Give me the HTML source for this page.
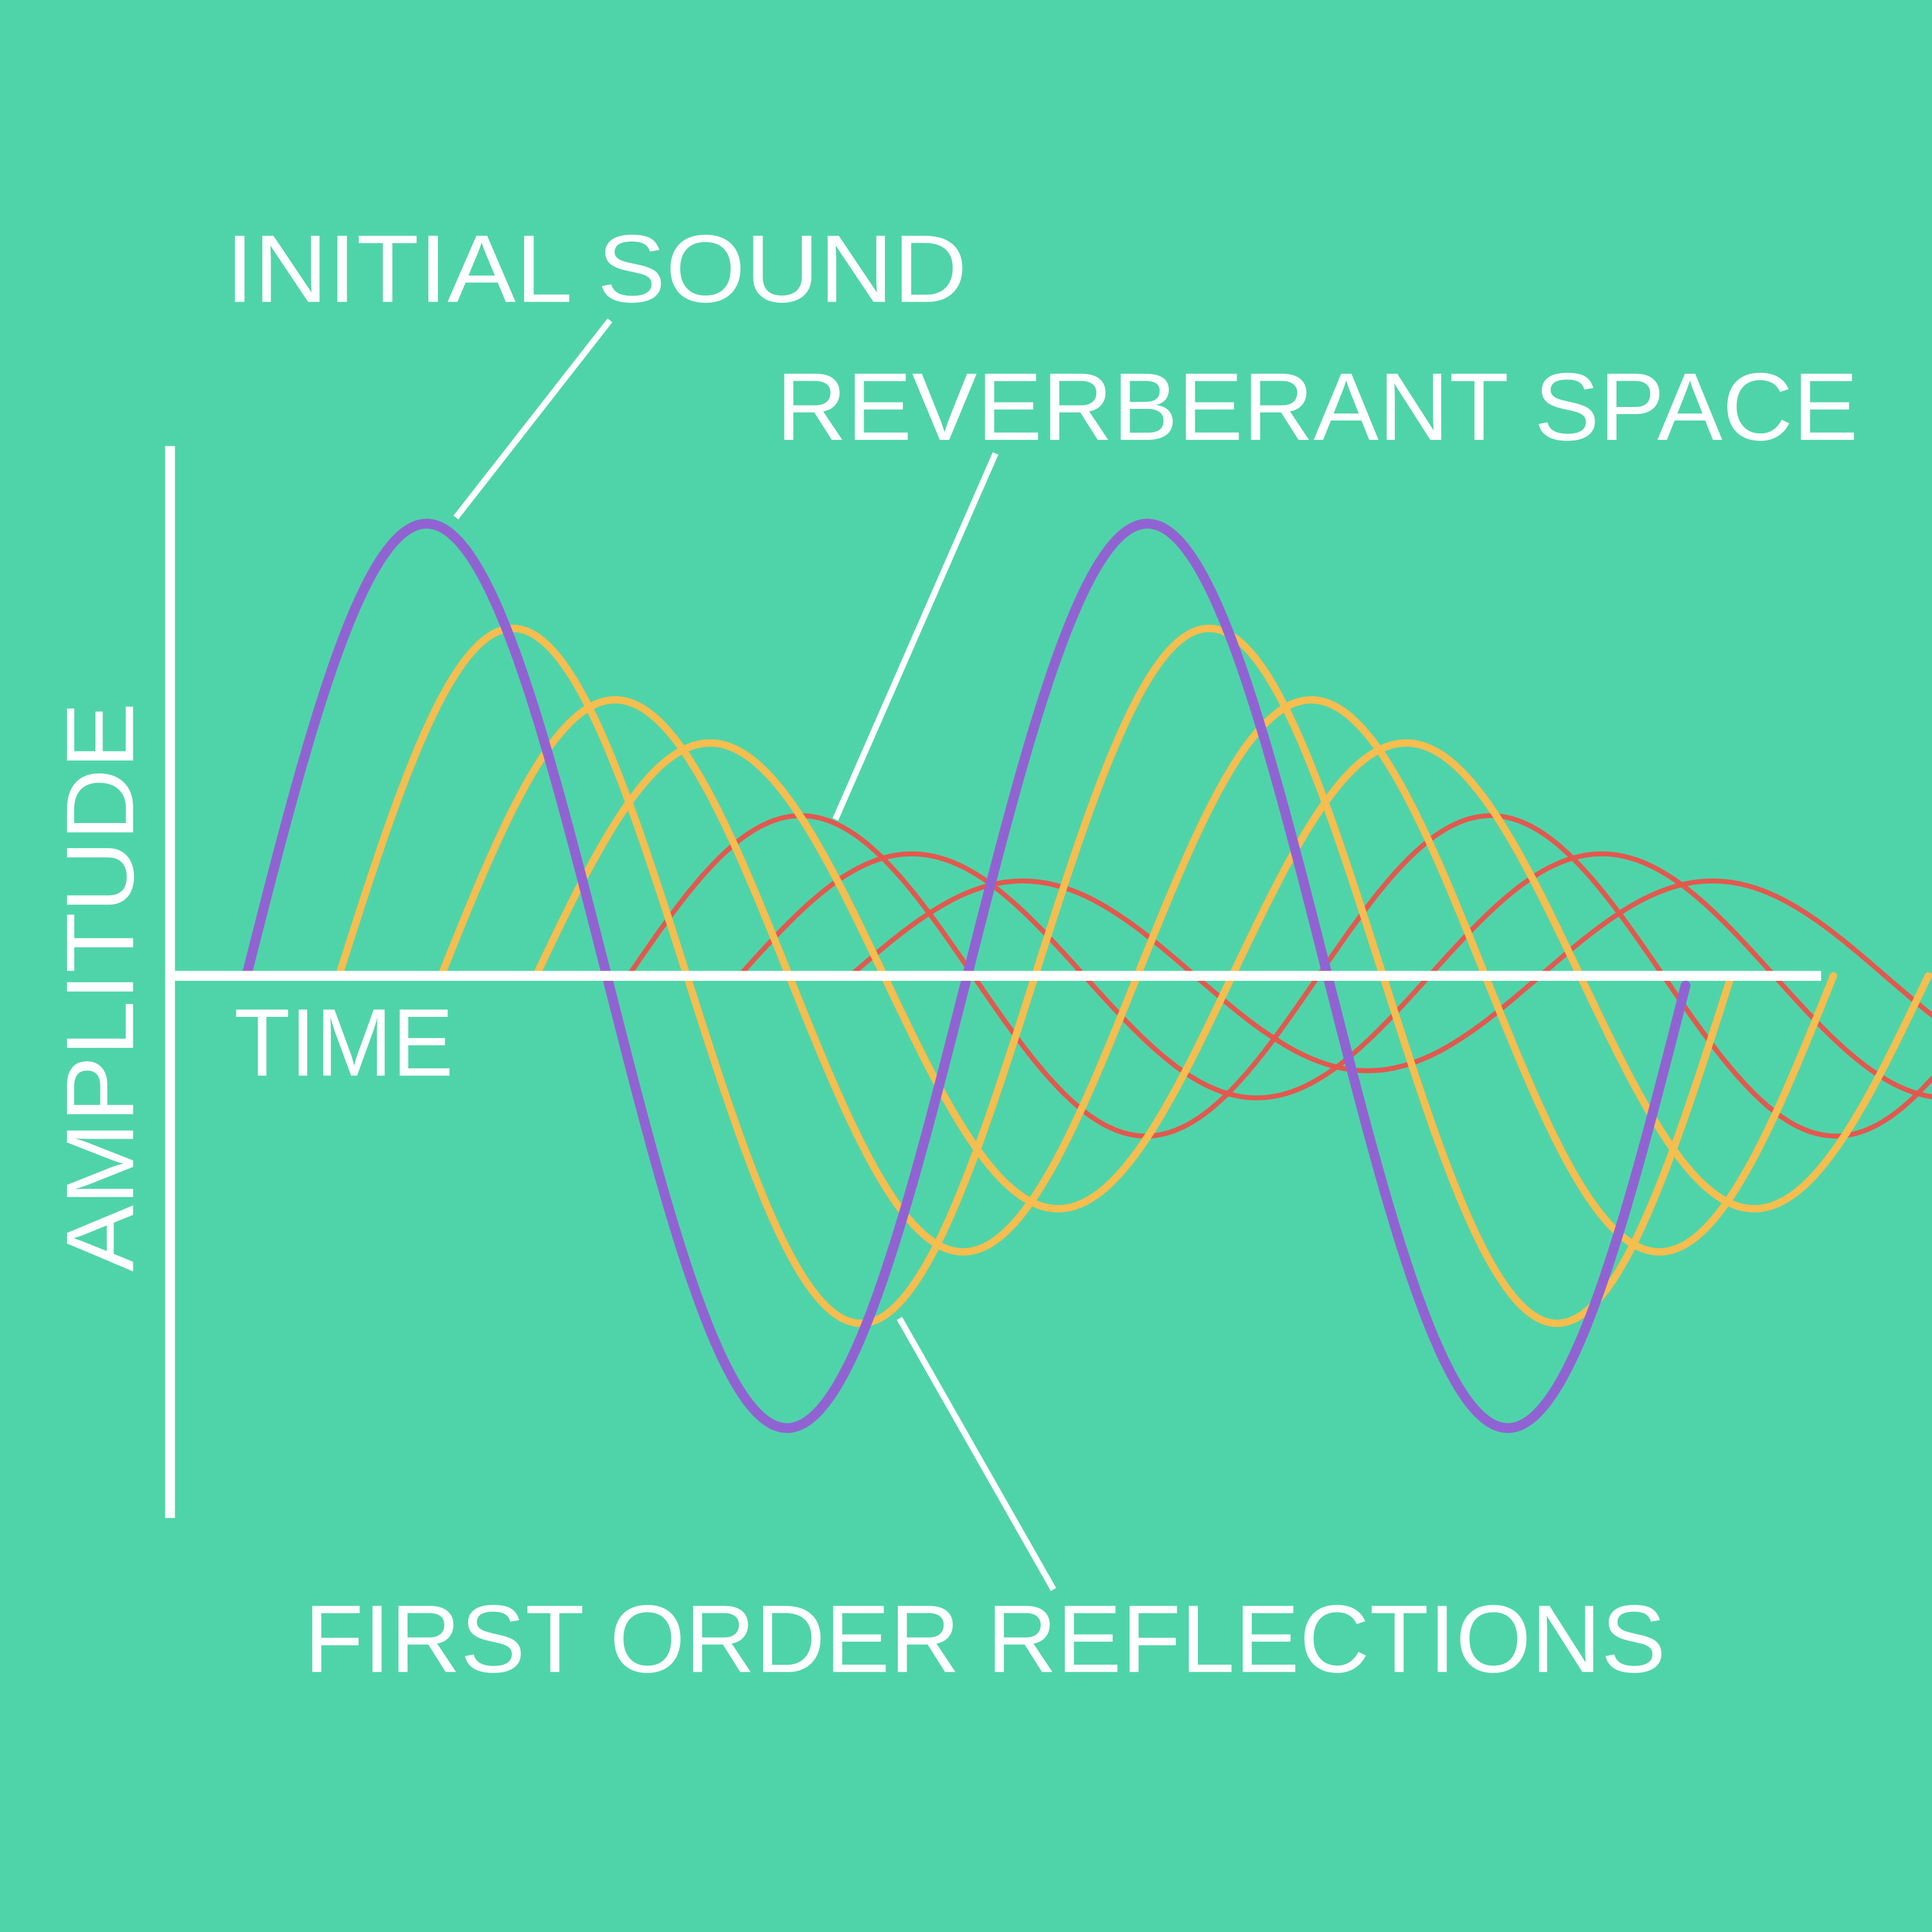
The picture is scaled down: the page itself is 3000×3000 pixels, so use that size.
<!DOCTYPE html>
<html><head><meta charset="utf-8"><style>
html,body{margin:0;padding:0;background:#4fd4a9;}
svg{display:block}
text{font-family:"Liberation Sans",sans-serif;fill:#fff;}
</style></head><body>
<svg id="s" width="3000" height="3000" viewBox="0 0 1568 1568" xmlns="http://www.w3.org/2000/svg">
<rect width="1568" height="1568" fill="#4fd4a9"/>
<g id="waves" fill="none" stroke-linecap="round" stroke-linejoin="round"></g>
<line x1="138" y1="362" x2="138" y2="1232" stroke="#fff" stroke-width="8"/>
<line x1="140" y1="792" x2="1478" y2="792" stroke="#fff" stroke-width="8"/>
<g stroke="#fff" stroke-width="5">
<line x1="495" y1="260" x2="370" y2="420"/>
<line x1="808" y1="368" x2="678" y2="665"/>
<line x1="730" y1="1070" x2="855" y2="1290"/>
</g>
<text x="183" y="245" font-size="78" textLength="602" lengthAdjust="spacingAndGlyphs">INITIAL SOUND</text>
<text x="630" y="357" font-size="78" textLength="878" lengthAdjust="spacingAndGlyphs">REVERBERANT SPACE</text>
<text x="190" y="873" font-size="78" textLength="178" lengthAdjust="spacingAndGlyphs">TIME</text>
<text x="247" y="1357" font-size="78" textLength="1105" lengthAdjust="spacingAndGlyphs">FIRST ORDER REFLECTIONS</text>
<text transform="translate(108,1032) rotate(-90)" font-size="78" textLength="462" lengthAdjust="spacingAndGlyphs">AMPLITUDE</text>
</svg>
<script>
(function(){
var g=document.getElementById('waves');
function wave(x0,amp,per,xe,col,w){
  var d='';
  for(var x=x0;x<=xe;x+=2){
    var y=792-amp*Math.sin(2*Math.PI*(x-x0)/per);
    d+=(d?'L':'M')+x.toFixed(1)+' '+y.toFixed(1);
  }
  var p=document.createElementNS('http://www.w3.org/2000/svg','path');
  p.setAttribute('d',d);p.setAttribute('stroke',col);p.setAttribute('stroke-width',w);
  g.appendChild(p);
}
var red='#e3584e',yel='#f6bd4f';
wave(690,77,560,1568,red,4);
wave(600,99,560,1568,red,4);
wave(510,130,560,1568,red,4);
wave(435,189,565,435+1130,yel,6);
wave(358,224,565,358+1130,yel,6);
wave(275,282,565,275+1130,yel,6);
wave(200,367,585,1368,'#9163d2',8);
})();
</script>
</body></html>
